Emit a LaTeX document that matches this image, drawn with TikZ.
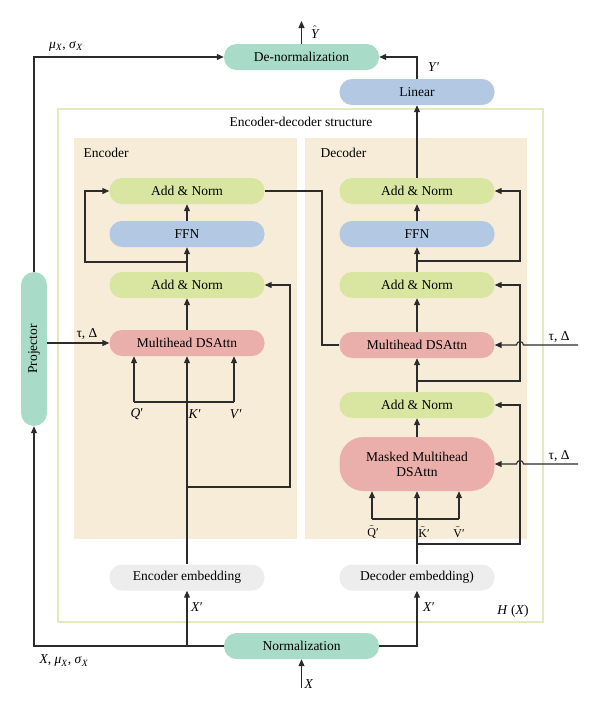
\documentclass[tikz,border=0pt]{standalone}
\usepackage{amsmath}
\usepackage{fontspec}
\setmainfont{Liberation Serif}
\usetikzlibrary{arrows.meta}
\definecolor{normgreen}{HTML}{A8DCC8}
\definecolor{linblue}{HTML}{B3C9E3}
\definecolor{addgreen}{HTML}{D9E6A1}
\definecolor{attnred}{HTML}{EBAFAB}
\definecolor{embgray}{HTML}{EDEDED}
\definecolor{panelbeige}{HTML}{F7ECD8}
\definecolor{framegreen}{HTML}{E3EAC0}
\definecolor{wiregray}{HTML}{2B2B2B}
\newcommand{\vlab}[1]{\textit{#1}}
\newcommand{\tlab}[1]{$\tilde{\text{#1}}$′}

\begin{document}
\begin{tikzpicture}[x=1pt,y=-1pt,font=\fontsize{13.5}{15}\selectfont]
            \tikzset{block/.style={rounded corners=12.5pt, minimum width=155pt, minimum height=26pt, inner sep=0pt}}
            \tikzset{normblock/.style={block, fill=normgreen}}
            \tikzset{linblock/.style={block, fill=linblue}}
            \tikzset{addnorm/.style={block, fill=addgreen}}
            \tikzset{attn/.style={block, fill=attnred}}
            \tikzset{embblock/.style={block, fill=embgray}}
            \tikzset{wire/.style={draw=wiregray, line width=1.1pt}}
            \tikzset{arr/.style={wire, -{Triangle[length=7pt,width=6pt]}}}
            \useasboundingbox (0,0) rectangle (600,710);
            % frame and panels
            \draw[framegreen, line width=1.2pt] (58,109) rectangle (543,622);
            \fill[panelbeige] (74,138) rectangle (297,539);
            \fill[panelbeige] (305,138) rectangle (527,539);
            \node at (301,122) {Encoder-decoder structure};
            \node[anchor=west] at (80,153) {Encoder};
            \node[anchor=west] at (317,153) {Decoder};
            \node at (513,611) {\vlab{H} (\vlab{X})};
            % blocks
            \node[normblock] (denorm) at (301.5,57) {De-normalization};
            \node[linblock] (linear) at (417,92) {Linear};
            \node[normblock, minimum width=26pt, minimum height=154pt, rounded corners=13pt] (proj) at (34,349) {\rotatebox{90}{Projector}};
            \node[addnorm] (encan2) at (187,191) {Add \& Norm};
            \node[linblock] (encffn) at (187,234) {FFN};
            \node[addnorm] (encan1) at (187,285) {Add \& Norm};
            \node[attn] (encattn) at (187,343) {Multihead DSAttn};
            \node[addnorm] (decan3) at (417,191) {Add \& Norm};
            \node[linblock] (decffn) at (417,234) {FFN};
            \node[addnorm] (decan2) at (417,285) {Add \& Norm};
            \node[attn] (decattn) at (417,345) {Multihead DSAttn};
            \node[addnorm] (decan1) at (417,405) {Add \& Norm};
            \node[attn, minimum height=54pt, rounded corners=24pt, align=center] (decmask) at (417,464) {Masked Multihead\\DSAttn};
            \node[embblock] (encemb) at (187,577.5) {Encoder embedding};
            \node[embblock] (decemb) at (417,577.5) {Decoder embedding)};
            \node[normblock] (norm) at (301.5,646) {Normalization};
            % output side
            \coordinate (yhat) at (301.5,21);
            \draw[arr] (denorm.north) -- (yhat);
            \node at (315,32) {$\hat{\text{\itshape Y}}$};
            \draw[arr] (linear.north) |- (denorm.east);
            \node at (434,67) {\vlab{Y}′};
            \draw[arr] (decan3.north) -- (linear.south);
            \draw[arr] (proj.north) |- (denorm.west);
            \node at (66,46) {\vlab{μ}\textsubscript{\vlab{X}}, \vlab{σ}\textsubscript{\vlab{X}}};
            % encoder
            \draw[arr] (encattn.north) -- (encan1.south);
            \draw[arr] (encan1.north) -- (encffn.south);
            \draw[arr] (encffn.north) -- (encan2.south);
            \coordinate (encskip) at (187,262);
            \draw[arr] (encskip) -- (85,262) |- (encan2.west);
            \coordinate (encres) at (187,487);
            \draw[arr] (encres) -- (290,487) |- (encan1.east);
            \draw[arr] (encemb.north) -- (encattn.south);
            \coordinate (encq) at (134,402);
            \coordinate (encv) at (234,402);
            \draw[wire] (encq) -- (encv);
            \draw[arr] (encq) -- (encq |- encattn.south);
            \draw[arr] (encv) -- (encv |- encattn.south);
            \node at (137,414) {\vlab{Q}′};
            \node at (195,414) {\vlab{K}′};
            \node at (236,414) {\vlab{V}′};
            \coordinate (tauenc) at (proj.east |- encattn.west);
            \draw[arr] (tauenc) -- (encattn.west);
            \node at (87,334) {τ, Δ};
            \draw[wire] (encan2.east) -- (322,191) |- (decattn.west);
            % decoder
            \draw[arr] (decmask.north) -- (decan1.south);
            \draw[arr] (decan1.north) -- (decattn.south);
            \draw[arr] (decattn.north) -- (decan2.south);
            \draw[arr] (decan2.north) -- (decffn.south);
            \draw[arr] (decffn.north) -- (decan3.south);
            \coordinate (decskip3) at (417,261);
            \draw[arr] (decskip3) -- (520,261) |- (decan3.east);
            \coordinate (decskip2) at (417,381);
            \draw[arr] (decskip2) -- (520,381) |- (decan2.east);
            \coordinate (decskip1) at (417,544);
            \draw[arr] (decskip1) -- (520,544) |- (decan1.east);
            \draw[arr] (decemb.north) -- (decmask.south);
            \coordinate (decq) at (372,519);
            \coordinate (decv) at (459,519);
            \draw[wire] (decq) -- (decv);
            \draw[arr] (decq) -- (decq |- decmask.south);
            \draw[arr] (decv) -- (decv |- decmask.south);
            \node[font=\fontsize{12}{14}\selectfont] at (373,532) {\tlab{Q}};
            \node[font=\fontsize{12}{14}\selectfont] at (424,532) {\tlab{K}};
            \node[font=\fontsize{12}{14}\selectfont] at (459,532) {\tlab{V}};
            \coordinate (tau1) at (578,345);
            \draw[arr] (tau1) -- (523.5,345) arc[start angle=0, end angle=180, radius=3.5pt] -- (decattn.east);
            \node at (559,337) {τ, Δ};
            \coordinate (tau2) at (578,464);
            \draw[arr] (tau2) -- (523.5,464) arc[start angle=0, end angle=180, radius=3.5pt] -- (decmask.east);
            \node at (559,456) {τ, Δ};
            % input side
            \draw[arr] (norm.west) -| (proj.south);
            \draw[arr] (norm.west -| encemb.south) -- (encemb.south);
            \node at (197,607) {\vlab{X}′};
            \draw[arr] (norm.east) -| (decemb.south);
            \node at (429,607) {\vlab{X}′};
            \node at (64,661) {\vlab{X}, \vlab{μ}\textsubscript{\vlab{X}}, \vlab{σ}\textsubscript{\vlab{X}}};
            \coordinate (xin) at (301.5,688);
            \draw[arr] (xin) -- (norm.south);
            \node at (309,684) {\vlab{X}};
        \end{tikzpicture}
\end{document}
